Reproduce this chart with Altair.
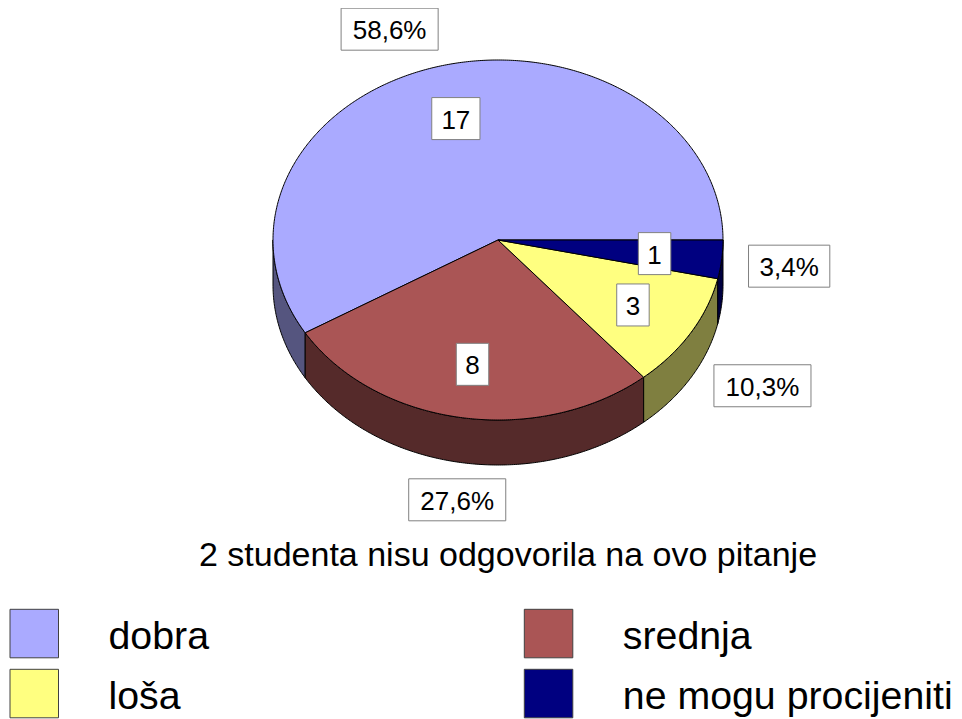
import math
import altair as alt

# ---- data ----
categories = ["dobra", "srednja", "loša", "ne mogu procijeniti"]
values = [17, 8, 3, 1]
colors = ["#AAAAFF", "#AA5555", "#FFFF80", "#000080"]
note = "2 studenta nisu odgovorila na ovo pitanje"

# ---- layout (page pixel space) ----
W, H = 946, 711
CX, CY, RX, RY, DEPTH = 498.0, 240.0, 225.0, 180.0, 45.0
FONT = "Liberation Sans"
LABEL_FS, TITLE_FS, LEGEND_FS = 26, 34, 39.3
BOX_H = 42.0
INNER_F = 0.7
LEG_COL_X = [10.0, 524.3]
LEG_ROW_Y = [609.3, 669.3]
LEG_BOX = 48.5
LEG_TEXT_DX = 98.5
TITLE_X, TITLE_Y = 508.0, 566.0

ARIAL = {"0": .556, "1": .556, "2": .556, "3": .556, "4": .556, "5": .556,
         "6": .556, "7": .556, "8": .556, "9": .556, ",": .278, "%": .889}


def text_w(s, fs):
    return sum(ARIAL.get(ch, .556) for ch in s) * fs


def box_w(s):
    return 1.09 * text_w(s, LABEL_FS) + 16.7


def shade(c, f=0.5):
    r, g, b = int(c[1:3], 16), int(c[3:5], 16), int(c[5:7], 16)
    return "#%02X%02X%02X" % (int(r * f), int(g * f), int(b * f))


def pt(t, dy=0.0):
    a = math.radians(t)
    return [CX + RX * math.cos(a), CY + RY * math.sin(a) + dy]


def arc(a, b, dy=0.0):
    n = max(2, int(math.ceil(abs(b - a) / 0.5)) + 1)
    return [pt(a + (b - a) * i / (n - 1), dy) for i in range(n)]


def poly(coords, fill):
    ring = coords + [coords[0]]
    return {"type": "Feature",
            "geometry": {"type": "Polygon", "coordinates": [ring]},
            "properties": {"fill": fill}}


def rect(x0, y0, w, h, fill):
    return poly([[x0, y0], [x0 + w, y0], [x0 + w, y0 + h], [x0, y0 + h]], fill)


def soft(v):
    m = min(max((abs(v) - 0.2) / 0.08, 0.0), 1.0)
    return math.copysign(m, v)


total = sum(values)
sides, tops, boxes, labels = [], [], [], []
end = 360.0
for cat, v, col in zip(categories, values, colors):
    span = v / total * 360.0
    t1, t2 = end - span, end
    end = t1
    tops.append(poly([[CX, CY]] + arc(t1, t2), col))
    a, b = max(t1, 0.0), min(t2, 180.0)
    if a < b:
        sides.append(poly(arc(a, b) + arc(b, a, DEPTH), shade(col)))
    tm = math.radians((t1 + t2) / 2)
    c, s = math.cos(tm), math.sin(tm)
    # value label inside the slice
    txt = str(v)
    w = box_w(txt)
    ix, iy = CX + INNER_F * RX * c, CY + INNER_F * RY * s
    boxes.append(rect(ix - w / 2, iy - BOX_H / 2, w, BOX_H, "#FFFFFF"))
    labels.append({"x": ix, "y": iy + 0.39 * LABEL_FS, "t": txt})
    # percentage label outside
    pct = f"{v / total * 100:.1f}".replace(".", ",") + "%"
    w = box_w(pct)
    ox = CX + (RX + 27) * c + w / 2 * soft(c)
    oy = CY + (RY + 17) * s + BOX_H / 2 * soft(s) + DEPTH * max(s, 0.0)
    boxes.append(rect(ox - w / 2, oy - BOX_H / 2, w, BOX_H, "#FFFFFF"))
    labels.append({"x": ox, "y": oy + 0.39 * LABEL_FS, "t": pct})

legend_boxes, legend_text = [], []
for i, (cat, col) in enumerate(zip(categories, colors)):
    x0, y0 = LEG_COL_X[i % 2], LEG_ROW_Y[i // 2]
    legend_boxes.append(rect(x0, y0, LEG_BOX, LEG_BOX, col))
    legend_text.append({"x": x0 + LEG_TEXT_DX, "y": y0 + LEG_BOX / 2 + 15.5, "t": cat})

title_data = [{"x": TITLE_X, "y": TITLE_Y, "t": note}]

proj = dict(type="identity", scale=1, translate=[-8, -8])


def shapes(feats, stroke, sw=1.0):
    return (alt.Chart(alt.Data(values=feats))
            .mark_geoshape(stroke=stroke, strokeWidth=sw)
            .encode(color=alt.Color("properties.fill:N", scale=None))
            .project(**proj))


def texts(rows, fs, align):
    return (alt.Chart(alt.Data(values=rows))
            .mark_text(font=FONT, fontSize=fs, align=align, baseline="alphabetic", color="black")
            .encode(longitude="x:Q", latitude="y:Q", text="t:N")
            .project(**proj))


chart = alt.layer(
    shapes(sides, "black"),
    shapes(tops, "black"),
    shapes(boxes, "#808080"),
    texts(labels, LABEL_FS, "center"),
    texts(title_data, TITLE_FS, "center"),
    shapes(legend_boxes, "#404040"),
    texts(legend_text, LEGEND_FS, "left"),
).properties(
    width=W, height=H, padding=0,
    autosize=alt.AutoSizeParams(type="none"),
    background="white",
).configure_view(stroke=None)

chart.save("out.html", embed_options={"renderer": "svg", "actions": False})
